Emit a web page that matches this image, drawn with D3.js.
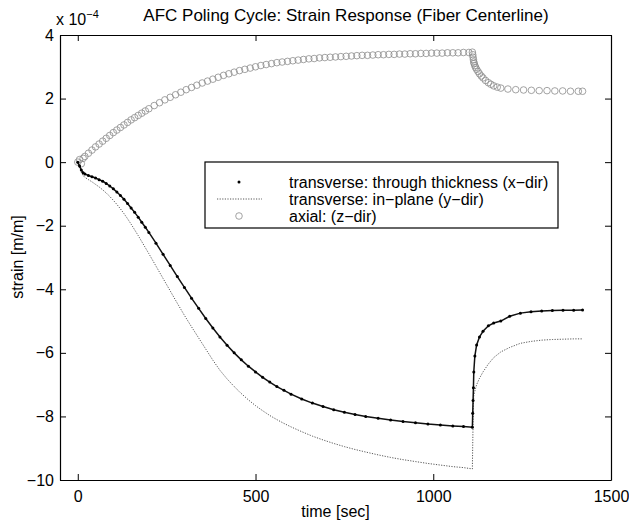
<!DOCTYPE html>
<html><head><meta charset="utf-8">
<script src="https://cdn.jsdelivr.net/npm/d3@7"></script>
<style>
body{margin:0;background:#fff}
svg{display:block}
text{font-family:"Liberation Sans",Arial,Helvetica,sans-serif;fill:#000}
</style>
</head><body>
<svg id="chart" width="629" height="520"></svg>
<script>
const chartTitle = "AFC Poling Cycle: Strain Response (Fiber Centerline)";
const xLabel = "time [sec]";
const yLabel = "strain [m/m]";
const xTicks = [0, 500, 1000, 1500];
const yTicks = [-10, -8, -6, -4, -2, 0, 2, 4];
const legendLabels = ["transverse: through thickness (x\u2212dir)", "transverse: in\u2212plane (y\u2212dir)", "axial: (z\u2212dir)"];

// transverse series (x-dir, y-dir) share this time base
const time = [0,5,10,15,20,30,40,50,60,70,80,90,100,110,120,130,140,150,160,170,180,190,200,
  220,240,260,280,300,320,340,360,380,400,420,440,460,480,500,520,540,560,580,600,
  630,660,690,720,750,780,810,845,880,915,950,985,1020,1055,1085,1110,
  1111,1112,1113,1114,1117,1122,1130,1140,1155,1170,1190,
  1215,1245,1275,1305,1335,1365,1395,1420];

const strainX = [0,-0.12,-0.25,-0.33,-0.37,-0.42,-0.46,-0.50,-0.55,-0.60,-0.67,-0.75,-0.84,-0.94,-1.05,-1.17,-1.30,-1.44,-1.58,-1.73,-1.89,-2.05,-2.21,
  -2.55,-2.90,-3.25,-3.60,-3.94,-4.28,-4.60,-4.92,-5.22,-5.50,-5.76,-6.00,-6.22,-6.42,-6.60,-6.77,-6.92,-7.06,-7.18,-7.30,
  -7.45,-7.58,-7.69,-7.79,-7.87,-7.94,-8.00,-8.06,-8.11,-8.16,-8.20,-8.24,-8.27,-8.30,-8.32,-8.34,
  -7.90,-7.50,-7.10,-6.60,-6.10,-5.75,-5.50,-5.32,-5.15,-5.06,-5.00,
  -4.85,-4.75,-4.71,-4.68,-4.67,-4.66,-4.66,-4.65];

const strainY = [0,-0.15,-0.32,-0.42,-0.48,-0.55,-0.62,-0.70,-0.78,-0.87,-0.97,-1.08,-1.20,-1.33,-1.47,-1.62,-1.78,-1.95,-2.13,-2.31,-2.50,-2.69,-2.88,
  -3.27,-3.66,-4.05,-4.44,-4.82,-5.18,-5.53,-5.88,-6.23,-6.55,-6.82,-7.06,-7.28,-7.48,-7.66,-7.82,-7.97,-8.10,-8.22,-8.33,
  -8.48,-8.62,-8.74,-8.85,-8.95,-9.04,-9.12,-9.21,-9.29,-9.36,-9.42,-9.48,-9.53,-9.58,-9.61,-9.65,
  -8.90,-8.20,-7.60,-7.35,-7.20,-7.00,-6.80,-6.60,-6.35,-6.15,-5.97,
  -5.83,-5.70,-5.64,-5.60,-5.58,-5.57,-5.56,-5.56];

// axial series (z-dir) sampled more densely
const timeZ = [0,5,10,15,20,30,40,50,60,70,80,90,100,110,120,130,140,150,160,170,180,190,
  200,215,230,245,260,275,290,305,320,335,350,365,380,395,410,425,440,455,470,485,
  500,515,530,545,560,575,590,605,620,635,650,665,680,695,710,725,740,755,770,785,
  800,815,830,845,860,875,890,905,920,935,950,965,980,995,1010,1025,1040,1055,1070,1085,1100,1110,
  1111,1112,1113,1114,1115,1117,1119,1122,1126,1130,1135,1140,1147,1155,1162,1170,1180,1190,
  1210,1232,1254,1276,1298,1320,1342,1364,1386,1408,1420];

const strainZ = [0,0.08,-0.05,0.12,0.18,0.28,0.38,0.48,0.57,0.66,0.75,0.84,0.93,1.01,1.09,1.17,1.25,1.33,1.40,1.47,1.54,1.61,
  1.68,1.78,1.87,1.96,2.04,2.12,2.20,2.28,2.35,2.42,2.49,2.55,2.61,2.67,2.73,2.78,2.83,2.88,2.92,2.96,
  3.00,3.04,3.07,3.10,3.13,3.15,3.17,3.19,3.21,3.23,3.25,3.26,3.28,3.29,3.30,3.31,3.32,3.33,3.34,3.35,
  3.36,3.36,3.37,3.38,3.38,3.39,3.39,3.40,3.40,3.41,3.41,3.42,3.42,3.43,3.43,3.43,3.44,3.44,3.44,3.45,3.45,3.46,
  3.38,3.30,3.22,3.15,3.10,3.04,2.98,2.92,2.85,2.78,2.71,2.65,2.57,2.50,2.45,2.40,2.36,2.33,
  2.30,2.28,2.27,2.26,2.25,2.25,2.24,2.24,2.23,2.23,2.23];

const box = {left: 60, right: 611, top: 35, bottom: 480};
const svg = d3.select("#chart");
const x = d3.scaleLinear().domain([-50, 1500]).range([box.left, box.right]);
const y = d3.scaleLinear().domain([-10, 4]).range([box.bottom, box.top]);
const fmt = d3.format("d");

const pts = (ts, vals) => ts.map((t, i) => [t, vals[i]]);

function styleAxis(g) {
  g.select(".domain").attr("stroke", "#000").attr("stroke-width", 1.2);
  g.selectAll(".tick line").attr("stroke", "#000").attr("stroke-width", 1);
  g.selectAll(".tick text").style("font-size", "16px").attr("fill", "#000");
}
svg.append("g").attr("transform", `translate(0,${box.bottom})`)
  .call(d3.axisBottom(x).tickValues(xTicks).tickFormat(fmt).tickSize(-6).tickSizeOuter(0).tickPadding(11))
  .call(styleAxis);
svg.append("g").attr("transform", `translate(0,${box.top})`)
  .call(d3.axisTop(x).tickValues(xTicks).tickFormat("").tickSize(-6).tickSizeOuter(0))
  .call(styleAxis);
svg.append("g").attr("transform", `translate(${box.left},0)`)
  .call(d3.axisLeft(y).tickValues(yTicks).tickFormat(fmt).tickSize(-6).tickSizeOuter(0).tickPadding(6))
  .call(styleAxis);
svg.append("g").attr("transform", `translate(${box.right},0)`)
  .call(d3.axisRight(y).tickValues(yTicks).tickFormat("").tickSize(-6).tickSizeOuter(0))
  .call(styleAxis);

const line = d3.line().x(d => x(d[0])).y(d => y(d[1]));
const plot = svg.append("g");

plot.append("g").selectAll("circle").data(pts(timeZ, strainZ)).join("circle")
  .attr("cx", d => x(d[0])).attr("cy", d => y(d[1])).attr("r", 3.3)
  .attr("fill", "none").attr("stroke", "#8c8c8c").attr("stroke-width", 0.8);
plot.append("path").datum(pts(time, strainY)).attr("d", line)
  .attr("fill", "none").attr("stroke", "#444").attr("stroke-width", 0.9).attr("stroke-dasharray", "1.2,1.4");
plot.append("path").datum(pts(time, strainX)).attr("d", line)
  .attr("fill", "none").attr("stroke", "#111").attr("stroke-width", 1.5);
plot.append("g").selectAll("circle").data(pts(time, strainX)).join("circle")
  .attr("cx", d => x(d[0])).attr("cy", d => y(d[1])).attr("r", 1.5).attr("fill", "#000");

svg.append("text").attr("x", 346).attr("y", 21).attr("text-anchor", "middle")
  .style("font-size", "17px").text(chartTitle);
svg.append("text").attr("x", (box.left + box.right) / 2).attr("y", 517).attr("text-anchor", "middle")
  .style("font-size", "16px").text(xLabel);
svg.append("text").attr("transform", `translate(23,257) rotate(-90)`).attr("text-anchor", "middle")
  .style("font-size", "16px").text(yLabel);
const expo = svg.append("text").attr("x", 56).attr("y", 25).style("font-size", "16px");
expo.append("tspan").text("x 10");
expo.append("tspan").attr("dy", -7).style("font-size", "11px").text("\u22124");

const lg = svg.append("g");
lg.append("rect").attr("x", 205).attr("y", 162).attr("width", 353).attr("height", 66)
  .attr("fill", "#fff").attr("stroke", "#000").attr("stroke-width", 1.2);
const rows = [182, 199, 216];
lg.append("circle").attr("cx", 239).attr("cy", rows[0]).attr("r", 1.5).attr("fill", "#000");
lg.append("line").attr("x1", 217).attr("x2", 262).attr("y1", rows[1]).attr("y2", rows[1])
  .attr("stroke", "#444").attr("stroke-width", 0.9).attr("stroke-dasharray", "1.2,1.4");
lg.append("circle").attr("cx", 239).attr("cy", rows[2]).attr("r", 3.3)
  .attr("fill", "none").attr("stroke", "#8c8c8c").attr("stroke-width", 0.8);
lg.selectAll("text.lab").data(legendLabels).join("text").attr("class", "lab")
  .attr("x", 289).attr("y", (d, i) => rows[i] + 5.5).style("font-size", "16px").text(d => d);
</script>
</body></html>
